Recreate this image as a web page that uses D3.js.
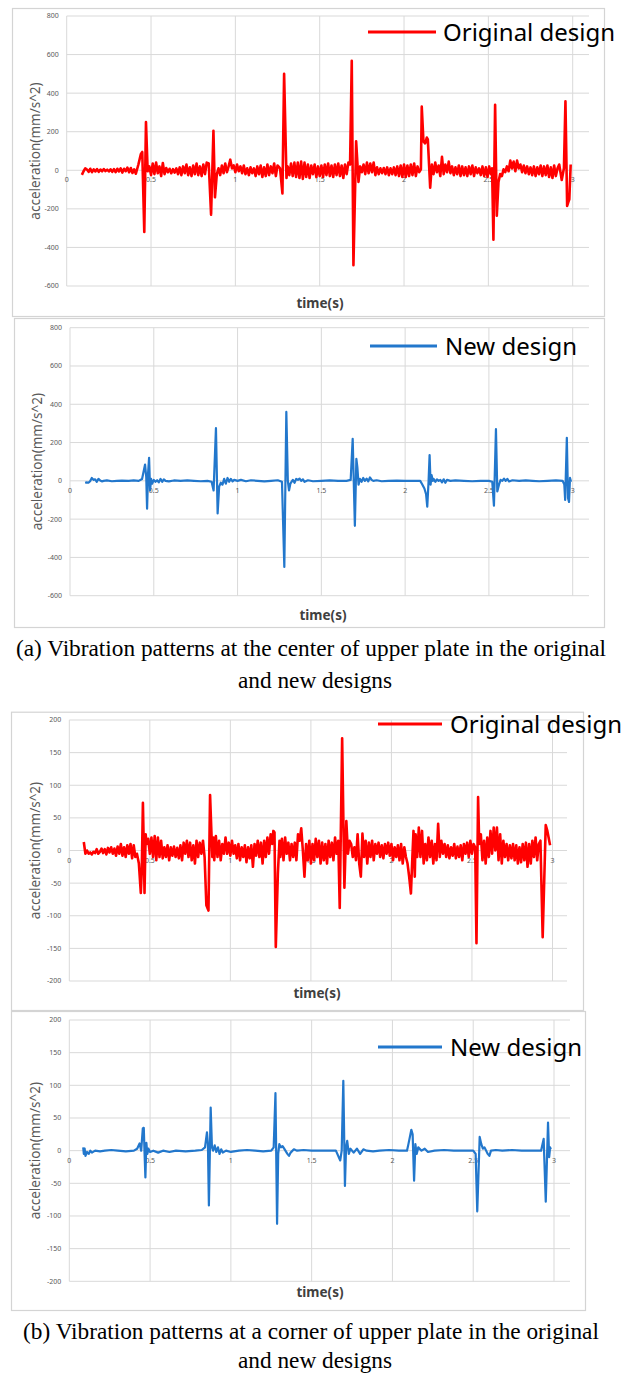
<!DOCTYPE html>
<html>
<head>
<meta charset="utf-8">
<script src="https://d3js.org/d3.v7.min.js"></script>
<style>
  body { margin: 0; background: #fff; }
  svg { display: block; }
</style>
</head>
<body>
<script>
// tick values / labels
const timeTicks = [0, 0.5, 1, 1.5, 2, 2.5, 3];
const timeTickLabels = ['0', '0.5', '1', '1.5', '2', '2.5', '3'];
const centerTicks = [-600, -400, -200, 0, 200, 400, 600, 800];
const cornerTicks = [-200, -150, -100, -50, 0, 50, 100, 150, 200];
const seriesNames = ['Original design', 'New design'];
const captionA = ['(a) Vibration patterns at the center of upper plate in the original', 'and new designs'];
const captionB = ['(b) Vibration patterns at a corner of upper plate in the original', 'and new designs'];

// (a) center of upper plate, original design [time s, acceleration mm/s^2]
const centerOriginal = [[0.09,-24],[0.10,-5],[0.11,10],[0.12,4],[0.13,-8],[0.14,8],[0.15,-10],[0.16,5],[0.17,-6],[0.18,6],[0.19,-8],[0.20,4],[0.21,-5],[0.22,6],[0.23,-4],[0.24,3],[0.25,-6],[0.26,5],[0.27,-8],[0.28,6],[0.29,-10],[0.30,8],[0.31,-6],[0.32,10],[0.33,-12],[0.34,8],[0.35,-5],[0.36,14],[0.37,-10],[0.38,12],[0.39,-14],[0.40,5],[0.41,-18],[0.425,30],[0.44,85],[0.448,95],[0.46,-320],[0.47,250],[0.48,-5],[0.49,20],[0.50,-25],[0.51,35],[0.52,-20],[0.53,40],[0.54,-15],[0.55,20],[0.56,-30],[0.57,38],[0.58,-20],[0.59,12],[0.60,-10],[0.61,8],[0.62,-15],[0.63,6],[0.64,-12],[0.65,10],[0.66,-20],[0.67,15],[0.68,-25],[0.69,20],[0.70,-15],[0.71,30],[0.72,-25],[0.73,15],[0.74,-30],[0.75,25],[0.76,-20],[0.77,35],[0.78,-25],[0.79,20],[0.80,-30],[0.81,30],[0.82,-20],[0.83,40],[0.842,35],[0.856,-230],[0.870,205],[0.879,-140],[0.89,-20],[0.90,10],[0.91,-25],[0.92,25],[0.93,-15],[0.94,35],[0.95,-10],[0.96,20],[0.97,55],[0.98,10],[0.99,25],[1.00,-10],[1.01,30],[1.02,-5],[1.03,20],[1.04,-15],[1.05,25],[1.06,-20],[1.07,10],[1.08,-25],[1.09,15],[1.10,-15],[1.11,10],[1.12,-30],[1.13,20],[1.14,-20],[1.15,25],[1.16,-35],[1.17,15],[1.18,-30],[1.19,30],[1.20,-25],[1.21,20],[1.22,-15],[1.23,35],[1.24,-30],[1.25,25],[1.265,10],[1.279,-120],[1.289,500],[1.303,-40],[1.31,20],[1.32,-25],[1.33,35],[1.34,-30],[1.35,40],[1.36,-35],[1.37,40],[1.38,-40],[1.39,45],[1.40,-45],[1.41,40],[1.42,-35],[1.43,30],[1.44,-40],[1.45,25],[1.46,-20],[1.47,30],[1.48,-35],[1.49,20],[1.50,-30],[1.51,25],[1.52,-35],[1.53,30],[1.54,-25],[1.55,35],[1.56,-30],[1.57,25],[1.58,-35],[1.59,30],[1.60,-25],[1.61,35],[1.62,-30],[1.63,25],[1.64,-40],[1.65,30],[1.66,-20],[1.67,40],[1.68,30],[1.690,568],[1.700,-492],[1.716,150],[1.730,-60],[1.74,20],[1.75,-10],[1.76,30],[1.77,-20],[1.78,40],[1.79,-15],[1.80,35],[1.81,-10],[1.82,40],[1.83,-25],[1.84,15],[1.85,-20],[1.86,10],[1.87,-15],[1.88,12],[1.89,-20],[1.90,15],[1.91,-25],[1.92,10],[1.93,-20],[1.94,15],[1.95,-25],[1.96,20],[1.97,-30],[1.98,25],[1.99,-35],[2.00,30],[2.01,-35],[2.02,25],[2.03,-30],[2.04,30],[2.05,-25],[2.06,35],[2.07,-30],[2.08,20],[2.09,-10],[2.10,5],[2.105,330],[2.115,150],[2.125,140],[2.135,170],[2.141,160],[2.155,-90],[2.165,30],[2.175,-20],[2.185,40],[2.195,-10],[2.205,25],[2.215,-30],[2.225,70],[2.235,-20],[2.245,30],[2.255,-10],[2.265,45],[2.275,-15],[2.285,20],[2.295,-25],[2.305,15],[2.315,-20],[2.325,25],[2.335,-30],[2.345,20],[2.355,-25],[2.365,15],[2.375,-30],[2.385,20],[2.395,-20],[2.405,25],[2.415,-30],[2.425,15],[2.435,-15],[2.445,10],[2.455,-25],[2.465,20],[2.475,-30],[2.485,15],[2.495,-35],[2.505,20],[2.515,-20],[2.522,10],[2.530,-360],[2.540,340],[2.550,-235],[2.560,-60],[2.57,-20],[2.58,-30],[2.59,5],[2.60,-10],[2.61,20],[2.62,-5],[2.63,50],[2.64,10],[2.65,45],[2.66,-5],[2.67,50],[2.68,10],[2.69,30],[2.70,-10],[2.71,25],[2.72,-15],[2.73,20],[2.74,-20],[2.75,15],[2.76,-25],[2.77,20],[2.78,-30],[2.79,15],[2.80,-20],[2.81,25],[2.82,-30],[2.83,20],[2.84,-25],[2.85,25],[2.86,-35],[2.87,15],[2.88,-40],[2.89,25],[2.90,-30],[2.91,10],[2.92,30],[2.935,-50],[2.948,10],[2.957,358],[2.967,-185],[2.974,-165],[2.980,-150],[2.988,30]];

// (a) center of upper plate, new design
const centerNew = [[0.09,-10],[0.10,-8],[0.11,-10],[0.12,-2],[0.13,15],[0.14,5],[0.15,8],[0.16,-5],[0.17,10],[0.18,2],[0.19,-3],[0.20,0],[0.22,2],[0.25,-2],[0.28,0],[0.31,1],[0.35,0],[0.38,2],[0.41,0],[0.43,10],[0.448,85],[0.455,20],[0.460,-145],[0.466,40],[0.472,120],[0.478,-50],[0.484,10],[0.49,-15],[0.50,5],[0.51,-5],[0.52,3],[0.53,-8],[0.54,10],[0.55,-5],[0.56,8],[0.57,0],[0.59,-3],[0.62,2],[0.66,0],[0.70,2],[0.74,0],[0.78,-2],[0.82,0],[0.845,-5],[0.857,-50],[0.871,275],[0.881,-170],[0.89,-30],[0.90,-10],[0.91,-20],[0.92,10],[0.93,-15],[0.94,15],[0.95,-5],[0.96,10],[0.97,-3],[0.98,5],[1.00,0],[1.02,5],[1.05,-2],[1.08,3],[1.12,0],[1.16,-3],[1.20,0],[1.24,3],[1.265,-5],[1.279,-450],[1.291,360],[1.300,0],[1.307,-50],[1.315,-15],[1.33,5],[1.34,-10],[1.35,10],[1.36,5],[1.37,12],[1.38,0],[1.39,8],[1.40,-5],[1.42,3],[1.45,-2],[1.50,0],[1.55,2],[1.60,0],[1.65,0],[1.675,5],[1.687,220],[1.700,-235],[1.709,115],[1.715,70],[1.722,-20],[1.73,10],[1.74,-5],[1.75,15],[1.76,0],[1.77,12],[1.78,-3],[1.79,18],[1.80,5],[1.81,0],[1.83,3],[1.86,-2],[1.90,0],[1.95,1],[2.00,0],[2.05,0],[2.09,0],[2.10,-15],[2.115,-40],[2.125,-70],[2.132,-135],[2.140,0],[2.146,135],[2.152,-20],[2.158,30],[2.165,0],[2.17,10],[2.18,-5],[2.19,8],[2.20,0],[2.21,5],[2.22,-8],[2.23,8],[2.24,-10],[2.25,5],[2.27,0],[2.30,2],[2.35,0],[2.40,-2],[2.45,0],[2.50,0],[2.52,-5],[2.530,-130],[2.542,270],[2.550,-55],[2.56,-20],[2.57,5],[2.58,0],[2.59,12],[2.60,0],[2.61,10],[2.62,-3],[2.64,3],[2.68,0],[2.72,2],[2.76,0],[2.80,-2],[2.85,0],[2.90,2],[2.94,0],[2.950,-20],[2.955,-100],[2.965,225],[2.972,-90],[2.978,-110],[2.984,15],[2.99,-5]];

// (b) corner of upper plate, original design
const cornerOriginal = [[0.09,13],[0.10,-5],[0.11,0],[0.12,-5],[0.13,-3],[0.14,-6],[0.15,-2],[0.16,-4],[0.17,2],[0.18,-5],[0.19,-2],[0.20,3],[0.21,-4],[0.22,2],[0.23,-6],[0.24,4],[0.25,-3],[0.26,5],[0.27,-5],[0.28,3],[0.29,-8],[0.30,6],[0.31,-5],[0.32,10],[0.33,-8],[0.34,5],[0.35,-10],[0.36,8],[0.37,-5],[0.38,10],[0.39,-12],[0.40,8],[0.41,-10],[0.42,-5],[0.432,-20],[0.444,-65],[0.450,-30],[0.457,73],[0.462,10],[0.467,-65],[0.474,25],[0.48,10],[0.49,18],[0.50,-5],[0.51,20],[0.52,-10],[0.53,22],[0.54,-15],[0.55,20],[0.56,-10],[0.57,15],[0.58,-12],[0.59,5],[0.60,-10],[0.61,8],[0.62,-15],[0.63,5],[0.64,-8],[0.65,6],[0.66,-10],[0.67,4],[0.68,-12],[0.69,8],[0.70,-15],[0.71,12],[0.72,-5],[0.73,15],[0.74,-10],[0.75,12],[0.76,-15],[0.77,8],[0.78,-20],[0.79,15],[0.80,-10],[0.81,12],[0.82,-5],[0.83,15],[0.84,-10],[0.851,-84],[0.864,-92],[0.874,85],[0.882,30],[0.888,-10],[0.895,20],[0.90,-15],[0.91,22],[0.92,-10],[0.93,15],[0.94,-15],[0.95,10],[0.96,-5],[0.97,20],[0.98,-5],[0.99,12],[1.00,-8],[1.01,15],[1.02,-5],[1.03,8],[1.04,-12],[1.05,10],[1.06,-15],[1.07,5],[1.08,-10],[1.09,8],[1.10,-18],[1.11,5],[1.12,-12],[1.13,8],[1.14,-25],[1.15,10],[1.16,-8],[1.17,15],[1.18,-10],[1.19,12],[1.20,-20],[1.21,15],[1.22,-10],[1.23,20],[1.24,-5],[1.25,25],[1.26,10],[1.267,30],[1.274,28],[1.282,-148],[1.295,-35],[1.305,15],[1.31,-10],[1.32,18],[1.33,-15],[1.34,20],[1.35,-5],[1.36,12],[1.37,-15],[1.38,10],[1.39,-10],[1.40,12],[1.41,-15],[1.42,25],[1.43,15],[1.44,34],[1.45,0],[1.46,-40],[1.47,10],[1.48,-15],[1.49,15],[1.50,-20],[1.51,10],[1.52,-15],[1.53,18],[1.54,-10],[1.55,15],[1.56,-20],[1.57,12],[1.58,-15],[1.59,10],[1.60,-20],[1.61,15],[1.62,-10],[1.63,12],[1.64,-15],[1.65,20],[1.66,-5],[1.67,15],[1.679,-88],[1.694,172],[1.702,40],[1.708,-57],[1.72,45],[1.73,-5],[1.74,15],[1.75,10],[1.76,-10],[1.77,5],[1.78,-15],[1.79,25],[1.80,-20],[1.81,-40],[1.82,26],[1.83,-10],[1.84,15],[1.85,-20],[1.86,12],[1.87,-10],[1.88,15],[1.89,-15],[1.90,10],[1.91,-5],[1.92,12],[1.93,-10],[1.94,8],[1.95,-12],[1.96,10],[1.97,-5],[1.98,12],[1.99,-8],[2.00,10],[2.01,-15],[2.02,5],[2.03,-10],[2.04,8],[2.05,-15],[2.06,10],[2.07,-20],[2.08,5],[2.09,-10],[2.10,-20],[2.11,-40],[2.121,-66],[2.13,-10],[2.137,30],[2.145,-40],[2.15,25],[2.16,-10],[2.17,35],[2.18,-10],[2.19,30],[2.20,-20],[2.21,10],[2.22,-15],[2.23,20],[2.24,-10],[2.25,15],[2.26,-20],[2.27,10],[2.28,-15],[2.29,41],[2.30,-10],[2.31,15],[2.32,-5],[2.33,10],[2.34,-10],[2.35,8],[2.36,-12],[2.37,5],[2.38,-8],[2.39,10],[2.40,-12],[2.41,6],[2.42,-10],[2.43,8],[2.44,-15],[2.45,10],[2.46,-5],[2.47,12],[2.48,-10],[2.49,15],[2.50,-5],[2.51,10],[2.52,5],[2.528,-142],[2.538,82],[2.545,10],[2.555,25],[2.565,-15],[2.575,15],[2.585,-20],[2.595,20],[2.605,-10],[2.615,30],[2.625,-5],[2.635,35],[2.645,0],[2.655,35],[2.665,-15],[2.675,25],[2.685,-20],[2.695,15],[2.705,-10],[2.715,10],[2.725,-15],[2.735,8],[2.745,-12],[2.755,10],[2.765,-15],[2.775,8],[2.785,-20],[2.795,5],[2.805,-18],[2.815,10],[2.825,-15],[2.835,12],[2.845,-25],[2.855,10],[2.865,-20],[2.875,15],[2.885,-10],[2.895,20],[2.905,-15],[2.915,10],[2.925,15],[2.939,-133],[2.958,39],[2.968,30],[2.985,8]];

// (b) corner of upper plate, new design
const cornerNew = [[0.086,5],[0.09,-5],[0.095,3],[0.10,-8],[0.11,-2],[0.12,-5],[0.13,0],[0.14,-3],[0.16,0],[0.19,-1],[0.22,0],[0.26,1],[0.30,0],[0.35,-1],[0.40,0],[0.42,3],[0.435,11],[0.445,0],[0.455,34],[0.461,35],[0.466,-5],[0.471,-41],[0.477,12],[0.483,-5],[0.49,3],[0.50,-2],[0.52,0],[0.55,-3],[0.58,0],[0.62,-2],[0.66,0],[0.72,-1],[0.78,0],[0.82,1],[0.84,5],[0.852,28],[0.858,10],[0.864,-84],[0.875,66],[0.883,5],[0.89,0],[0.90,8],[0.91,-2],[0.92,5],[0.93,-5],[0.94,2],[0.95,-3],[0.97,0],[1.00,-2],[1.05,0],[1.10,1],[1.15,0],[1.20,-1],[1.25,0],[1.265,5],[1.276,88],[1.286,-112],[1.293,-5],[1.30,10],[1.31,5],[1.32,7],[1.33,3],[1.35,-5],[1.36,-8],[1.37,-3],[1.39,2],[1.41,0],[1.45,1],[1.50,0],[1.55,0],[1.60,0],[1.65,0],[1.677,-15],[1.686,0],[1.696,107],[1.706,-54],[1.713,5],[1.72,15],[1.73,-5],[1.74,3],[1.76,-3],[1.78,3],[1.80,-5],[1.82,2],[1.84,0],[1.88,-1],[1.92,0],[1.98,1],[2.04,0],[2.09,0],[2.099,10],[2.117,32],[2.125,25],[2.134,-46],[2.142,10],[2.15,-5],[2.16,5],[2.18,0],[2.20,3],[2.22,-2],[2.26,0],[2.32,1],[2.38,0],[2.44,0],[2.50,0],[2.515,-5],[2.525,-93],[2.540,21],[2.55,10],[2.56,3],[2.57,5],[2.59,-5],[2.60,-8],[2.61,0],[2.64,1],[2.68,0],[2.74,1],[2.80,0],[2.86,0],[2.92,0],[2.936,18],[2.949,-78],[2.963,43],[2.97,-10],[2.976,5],[2.98,2]];

const W = 635, H = 1378;
const red = '#ff0000', blue = '#2277cc';
const gridColor = '#d9d9d9';
const grayText = '#595959';

const svg = d3.select('body').append('svg').attr('width', W).attr('height', H);
svg.append('rect').attr('width', W).attr('height', H).attr('fill', '#fff');

// layout of the four excel-like chart boxes
const panels = [
    {data: centerOriginal, ticks: centerTicks, color: red, width: 2.6, name: seriesNames[0],
     frame: [12, 8, 604, 316], x0: 66.7, x3: 572.7, right: 589, top: 16, bottom: 286,
     titleX: 35, timeX: 320, timeY: 303, leg: [368, 436, 32, 443]},
    {data: centerNew, ticks: centerTicks, color: blue, width: 2.2, name: seriesNames[1],
     frame: [14, 318, 604, 627], x0: 70, x3: 572.7, right: 589, top: 327.7, bottom: 595.7,
     titleX: 37, timeX: 323, timeY: 615, leg: [370, 437, 346, 445]},
    {data: cornerOriginal, ticks: cornerTicks, color: red, width: 2.6, name: seriesNames[0],
     frame: [11, 711.7, 583, 1010], x0: 69.3, x3: 552.5, right: 567, top: 720, bottom: 981,
     titleX: 35, timeX: 317, timeY: 993, leg: [378, 442, 724, 450]},
    {data: cornerNew, ticks: cornerTicks, color: blue, width: 2.2, name: seriesNames[1],
     frame: [11, 1011, 585, 1310], x0: 69.3, x3: 554, right: 570, top: 1020, bottom: 1281.3,
     titleX: 35, timeX: 320, timeY: 1292, leg: [378, 442, 1047, 450]}
];

panels.forEach(p => {
    const g = svg.append('g');
    const x = d3.scaleLinear().domain([0, 3]).range([p.x0, p.x3]);
    const y = d3.scaleLinear().domain(d3.extent(p.ticks)).range([p.bottom, p.top]);

    // chart box
    g.append('rect')
        .attr('x', p.frame[0] + 0.5).attr('y', p.frame[1] + 0.5)
        .attr('width', p.frame[2] - p.frame[0]).attr('height', p.frame[3] - p.frame[1])
        .attr('fill', '#fff').attr('stroke', '#d4d4d4').attr('stroke-width', 1.2);

    // gridlines
    g.selectAll('.hgrid').data(p.ticks).join('line')
        .attr('x1', p.x0).attr('x2', p.right)
        .attr('y1', d => y(d)).attr('y2', d => y(d))
        .attr('stroke', gridColor).attr('stroke-width', 1);
    g.selectAll('.vgrid').data(timeTicks).join('line')
        .attr('x1', d => x(d)).attr('x2', d => x(d))
        .attr('y1', p.top).attr('y2', p.bottom)
        .attr('stroke', gridColor).attr('stroke-width', 1);

    // y tick labels
    g.selectAll('.ylab').data(p.ticks).join('text')
        .attr('x', p.x0 - 8).attr('y', d => y(d))
        .attr('dy', '0.35em').attr('text-anchor', 'end')
        .attr('font-family', 'Noto Sans, sans-serif').attr('font-size', 7)
        .attr('fill', grayText).text(d => d);

    // x tick labels sit under the zero line
    g.selectAll('.xlab').data(timeTicks).join('text')
        .attr('x', d => x(d)).attr('y', y(0) + 12)
        .attr('text-anchor', 'middle')
        .attr('font-family', 'Noto Sans, sans-serif').attr('font-size', 7)
        .attr('fill', grayText).text((d, i) => timeTickLabels[i]);

    // series
    const line = d3.line().x(d => x(d[0])).y(d => y(d[1]));
    g.append('path').datum(p.data)
        .attr('d', line).attr('fill', 'none')
        .attr('stroke', p.color).attr('stroke-width', p.width)
        .attr('stroke-linejoin', 'round');

    // axis titles
    g.append('text')
        .attr('transform', `translate(${p.titleX},${(p.top + p.bottom) / 2}) rotate(-90)`)
        .attr('text-anchor', 'middle').attr('dy', '0.35em')
        .attr('font-family', 'Noto Sans, sans-serif').attr('font-size', 13.5)
        .attr('fill', grayText).text('acceleration(mm/s^2)');
    g.append('text')
        .attr('x', p.timeX).attr('y', p.timeY).attr('dy', '0.35em')
        .attr('text-anchor', 'middle')
        .attr('font-family', 'Noto Sans, sans-serif').attr('font-size', 13.5)
        .attr('font-weight', 'bold').attr('fill', '#404040').text('time(s)');

    // legend
    g.append('line')
        .attr('x1', p.leg[0]).attr('x2', p.leg[1])
        .attr('y1', p.leg[2]).attr('y2', p.leg[2])
        .attr('stroke', p.color).attr('stroke-width', 3.2);
    g.append('text')
        .attr('x', p.leg[3]).attr('y', p.leg[2] + 8.5)
        .attr('font-family', 'Noto Sans, sans-serif').attr('font-size', 24)
        .attr('fill', '#000').text(p.name);
});

// figure captions
const captions = [[captionA, 656, 688], [captionB, 1339, 1368]];
captions.forEach(([lines, y1, y2]) => {
    [y1, y2].forEach((yy, i) => {
        svg.append('text')
            .attr('x', i === 0 ? 311 : 315).attr('y', yy)
            .attr('text-anchor', 'middle')
            .attr('font-family', 'Liberation Serif, Times New Roman, serif')
            .attr('font-size', 23.3).attr('fill', '#000')
            .text(lines[i]);
    });
});
</script>
</body>
</html>
